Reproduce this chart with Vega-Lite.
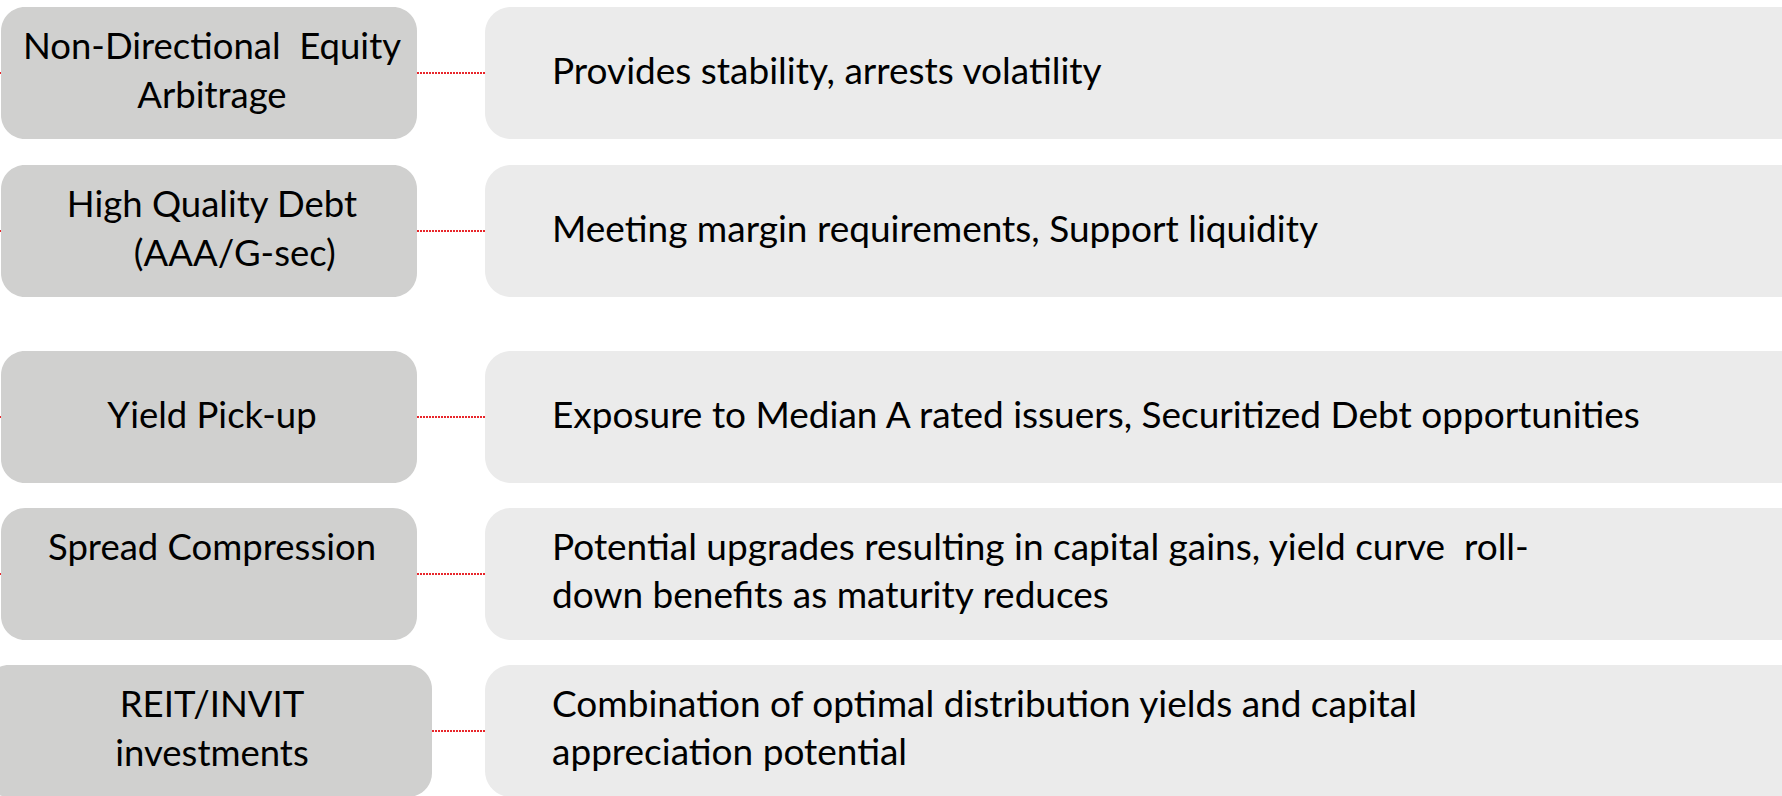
{
  "$schema": "https://vega.github.io/schema/vega-lite/v6.json",
  "width": 1782,
  "height": 796,
  "autosize": "none",
  "padding": 0,
  "background": "white",
  "config": {"view": {"stroke": null}},
  "data": {
    "values": [
      {"label": "Non-Directional\u00a0\u00a0Equity\nArbitrage", "desc": "Provides stability, arrests volatility", "pos": 73, "boxStart": 1, "boxEnd": 417},
      {"label": "High Quality Debt\n\u200b\u2003\u2002(AAA/G-sec)", "desc": "Meeting margin requirements, Support liquidity", "pos": 231, "boxStart": 1, "boxEnd": 417},
      {"label": "Yield Pick-up", "desc": "Exposure to Median A rated issuers, Securitized Debt opportunities", "pos": 417, "boxStart": 1, "boxEnd": 417},
      {"label": "Spread Compression\n\u00a0", "desc": "Potential upgrades resulting in capital gains, yield curve\u00a0\u00a0roll-\ndown benefits as maturity reduces", "pos": 574, "boxStart": 1, "boxEnd": 417},
      {"label": "REIT/INVIT\ninvestments", "desc": "Combination of optimal distribution yields and capital\nappreciation potential", "pos": 731, "boxStart": -15, "boxEnd": 432}
    ]
  },
  "layer": [
    {
      "mark": {"type": "rule", "color": "#e8262b", "strokeWidth": 2, "strokeDash": [2, 1]},
      "encoding": {
        "x": {"datum": 0, "type": "quantitative", "scale": {"domain": [0, 1782]}, "axis": null},
        "x2": {"datum": 485},
        "y": {"field": "pos", "type": "quantitative", "scale": {"domain": [0, 796], "reverse": true}, "axis": null}
      }
    },
    {
      "mark": {"type": "rect", "color": "#d0d0cf", "cornerRadius": 24, "yOffset": -66, "y2Offset": 66},
      "encoding": {
        "x": {"field": "boxStart", "type": "quantitative", "scale": {"domain": [0, 1782]}, "axis": null},
        "x2": {"field": "boxEnd"},
        "y": {"field": "pos", "type": "quantitative", "scale": {"domain": [0, 796], "reverse": true}, "axis": null},
        "y2": {"field": "pos"}
      }
    },
    {
      "mark": {"type": "rect", "color": "#ebebeb", "cornerRadius": 26, "yOffset": -66, "y2Offset": 66},
      "encoding": {
        "x": {"datum": 485, "type": "quantitative", "scale": {"domain": [0, 1782]}, "axis": null},
        "x2": {"datum": 1820},
        "y": {"field": "pos", "type": "quantitative", "scale": {"domain": [0, 796], "reverse": true}, "axis": null},
        "y2": {"field": "pos"}
      }
    },
    {
      "transform": [{"filter": "indexof(datum.label, '\\n') >= 0"}],
      "mark": {"type": "text", "font": "Lato, sans-serif", "fontSize": 36.5, "lineBreak": "\n", "lineHeight": 49, "dy": -25, "align": "center", "baseline": "middle", "color": "#000000"},
      "encoding": {
        "x": {"datum": 212, "type": "quantitative", "scale": {"domain": [0, 1782]}, "axis": null},
        "y": {"field": "pos", "type": "quantitative", "scale": {"domain": [0, 796], "reverse": true}, "axis": null},
        "text": {"field": "label"}
      }
    },
    {
      "transform": [{"filter": "indexof(datum.label, '\\n') < 0"}],
      "mark": {"type": "text", "font": "Lato, sans-serif", "fontSize": 36.5, "lineBreak": "\n", "lineHeight": 49, "align": "center", "baseline": "middle", "color": "#000000"},
      "encoding": {
        "x": {"datum": 212, "type": "quantitative", "scale": {"domain": [0, 1782]}, "axis": null},
        "y": {"field": "pos", "type": "quantitative", "scale": {"domain": [0, 796], "reverse": true}, "axis": null},
        "text": {"field": "label"}
      }
    },
    {
      "transform": [{"filter": "indexof(datum.desc, '\\n') >= 0"}],
      "mark": {"type": "text", "font": "Lato, sans-serif", "fontSize": 37, "lineBreak": "\n", "lineHeight": 48, "dy": -25, "align": "left", "baseline": "middle", "color": "#000000"},
      "encoding": {
        "x": {"datum": 552, "type": "quantitative", "scale": {"domain": [0, 1782]}, "axis": null},
        "y": {"field": "pos", "type": "quantitative", "scale": {"domain": [0, 796], "reverse": true}, "axis": null},
        "text": {"field": "desc"}
      }
    },
    {
      "transform": [{"filter": "indexof(datum.desc, '\\n') < 0"}],
      "mark": {"type": "text", "font": "Lato, sans-serif", "fontSize": 37, "lineBreak": "\n", "lineHeight": 48, "align": "left", "baseline": "middle", "color": "#000000"},
      "encoding": {
        "x": {"datum": 552, "type": "quantitative", "scale": {"domain": [0, 1782]}, "axis": null},
        "y": {"field": "pos", "type": "quantitative", "scale": {"domain": [0, 796], "reverse": true}, "axis": null},
        "text": {"field": "desc"}
      }
    }
  ]
}
